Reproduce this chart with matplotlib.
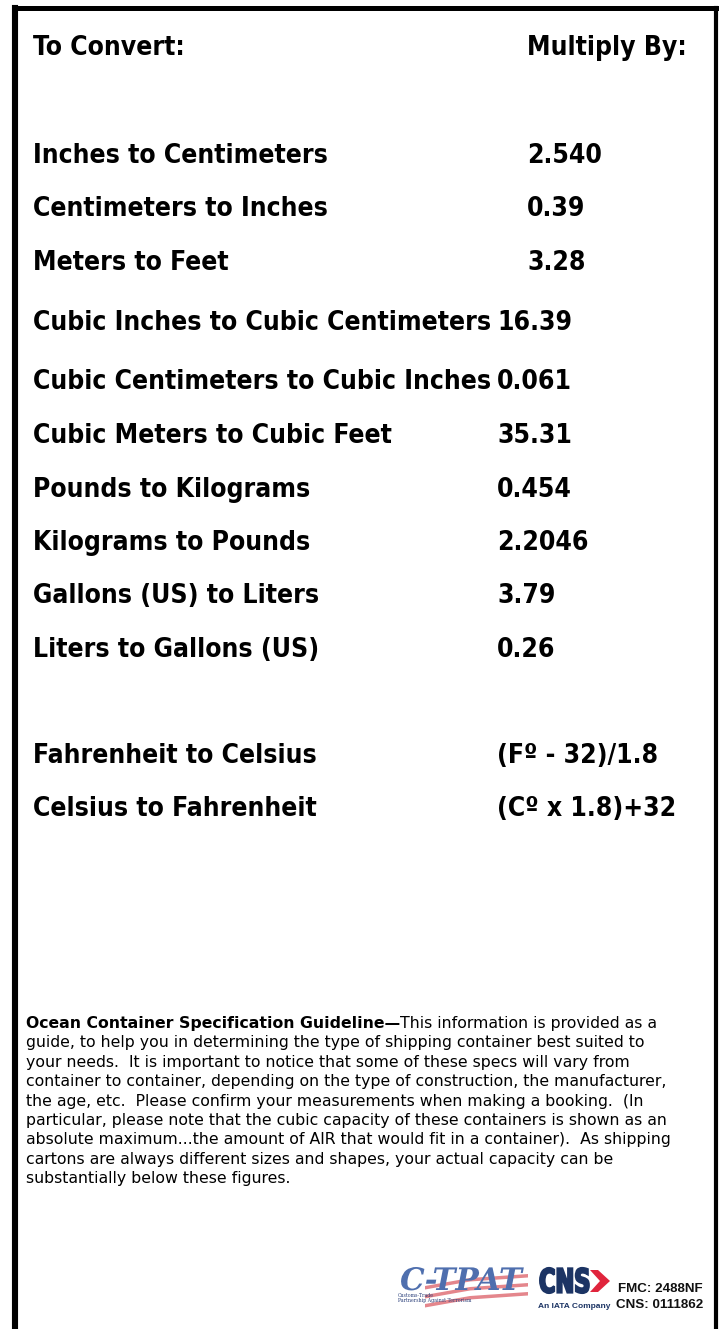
import matplotlib
matplotlib.use("Agg")
import matplotlib.pyplot as plt
from matplotlib.patches import Polygon, PathPatch
from matplotlib.textpath import TextPath
from matplotlib.font_manager import FontProperties
from matplotlib.transforms import Affine2D

# Conversion table
header_left = "To Convert:"
header_right = "Multiply By:"
conversions = [
    "Inches to Centimeters",
    "Centimeters to Inches",
    "Meters to Feet",
    "Cubic Inches to Cubic Centimeters",
    "Cubic Centimeters to Cubic Inches",
    "Cubic Meters to Cubic Feet",
    "Pounds to Kilograms",
    "Kilograms to Pounds",
    "Gallons (US) to Liters",
    "Liters to Gallons (US)",
]
factors = ["2.540", "0.39", "3.28", "16.39", "0.061", "35.31",
           "0.454", "2.2046", "3.79", "0.26"]
temp_conversions = ["Fahrenheit to Celsius", "Celsius to Fahrenheit"]
temp_formulas = ["(F\u00ba - 32)/1.8", "(C\u00ba x 1.8)+32"]

note_title = "Ocean Container Specification Guideline\u2014"
note_lines = [
    "This information is provided as a",
    "guide, to help you in determining the type of shipping container best suited to",
    "your needs.  It is important to notice that some of these specs will vary from",
    "container to container, depending on the type of construction, the manufacturer,",
    "the age, etc.  Please confirm your measurements when making a booking.  (In",
    "particular, please note that the cubic capacity of these containers is shown as an",
    "absolute maximum...the amount of AIR that would fit in a container).  As shipping",
    "cartons are always different sizes and shapes, your actual capacity can be",
    "substantially below these figures.",
]
fmc_lines = ["FMC: 2488NF", "CNS: 0111862"]

# layout (pixels, top-down)
W, H = 721, 1329
row_y = [156, 209, 263, 323, 382, 436, 490, 543, 596, 650]
factor_x = [527, 527, 527, 497, 497, 497, 497, 497, 497, 497]
temp_y = [756, 809]

fig = plt.figure(figsize=(W / 100, H / 100), dpi=100)
ax = fig.add_axes([0, 0, 1, 1])
ax.set_xlim(0, W)
ax.set_ylim(H, 0)
ax.axis("off")

big = dict(family="DejaVu Sans", stretch="condensed", fontweight="bold",
           fontsize=19, va="center", color="black")
small = dict(family="DejaVu Sans", fontsize=11.3, va="baseline", color="black")

# frame
ax.plot([15, 15], [H, 7.5], color="black", lw=4.4, solid_capstyle="projecting")
ax.plot([15, 716], [7.5, 7.5], color="black", lw=3.6, solid_capstyle="projecting")
ax.plot([716, 716], [7.5, H], color="black", lw=3.0, solid_capstyle="projecting")

ax.text(33, 48, header_left, **big)
ax.text(527, 48, header_right, **big)

for label, val, y, fx in zip(conversions, factors, row_y, factor_x):
    ax.text(33, y, label, **big)
    ax.text(fx, y, val, **big)

for label, val, y in zip(temp_conversions, temp_formulas, temp_y):
    ax.text(33, y, label, **big)
    ax.text(497, y, val, **big)

# note paragraph: bold lead-in, then the rest of the first line right after it
fig.canvas.draw()
r = fig.canvas.get_renderer()
t = ax.text(26, 1028, note_title, fontweight="bold", **small)
bb = t.get_window_extent(renderer=r)
x_end = ax.transData.inverted().transform((bb.x1, bb.y0))[0]
ax.text(x_end, 1028, note_lines[0], **small)
for i, line in enumerate(note_lines[1:]):
    ax.text(26, 1047.4 + i * 19.4, line, **small)


def squeezed_text(s, x, y, size, sx, sy, color, lw=0, **font):
    # text path scaled separately in x and y (y axis is flipped)
    tp = TextPath((0, 0), s, size=size, prop=FontProperties(**font))
    tr = Affine2D().scale(sx, -sy).translate(x, y) + ax.transData
    ax.add_patch(PathPatch(tp, transform=tr, facecolor=color, edgecolor=color, lw=lw))


# logo area (drawn approximately)
stripe_cols = ["#d2353f", "#ffffff", "#d2353f", "#ffffff", "#d2353f"]
for k, c in enumerate(stripe_cols):
    y0 = 1280 + k * 4.5
    ax.add_patch(Polygon([[425, y0 + 6], [470, y0 - 2], [528, y0 - 6],
                          [528, y0 - 2.5], [470, y0 + 1.5], [425, y0 + 9.5]],
                         closed=True, color=c, alpha=0.6, lw=0))
squeezed_text("C-TPAT", 400, 1290, 31, 1.0, 1.0, "#4f6fae",
              family="DejaVu Serif", style="italic", weight="bold")
ax.text(398, 1297, "Customs-Trade", family="DejaVu Serif", fontsize=3.3,
        color="#2a3f7a", va="baseline")
ax.text(398, 1302, "Partnership Against Terrorism", family="DejaVu Serif",
        fontsize=3.3, color="#2a3f7a", va="baseline")
squeezed_text("CNS", 539, 1292.5, 33, 0.68, 1.0, "#1c3464", lw=1.6,
              family="DejaVu Sans", weight="bold")
ax.add_patch(Polygon([[590, 1270], [598, 1270], [610, 1281], [598, 1292],
                      [590, 1292], [600, 1281]], closed=True, color="#e0243c", lw=0))
ax.text(538, 1308, "An IATA Company", family="Liberation Sans", fontweight="bold",
        fontsize=6, color="#1c3464", va="baseline")
ax.text(618, 1292.5, fmc_lines[0], family="Liberation Sans", fontweight="bold",
        fontsize=9.6, color="#111111", va="baseline")
ax.text(616, 1307.5, fmc_lines[1], family="Liberation Sans", fontweight="bold",
        fontsize=9.6, color="#111111", va="baseline")

fig.savefig("out.png", dpi=100)
